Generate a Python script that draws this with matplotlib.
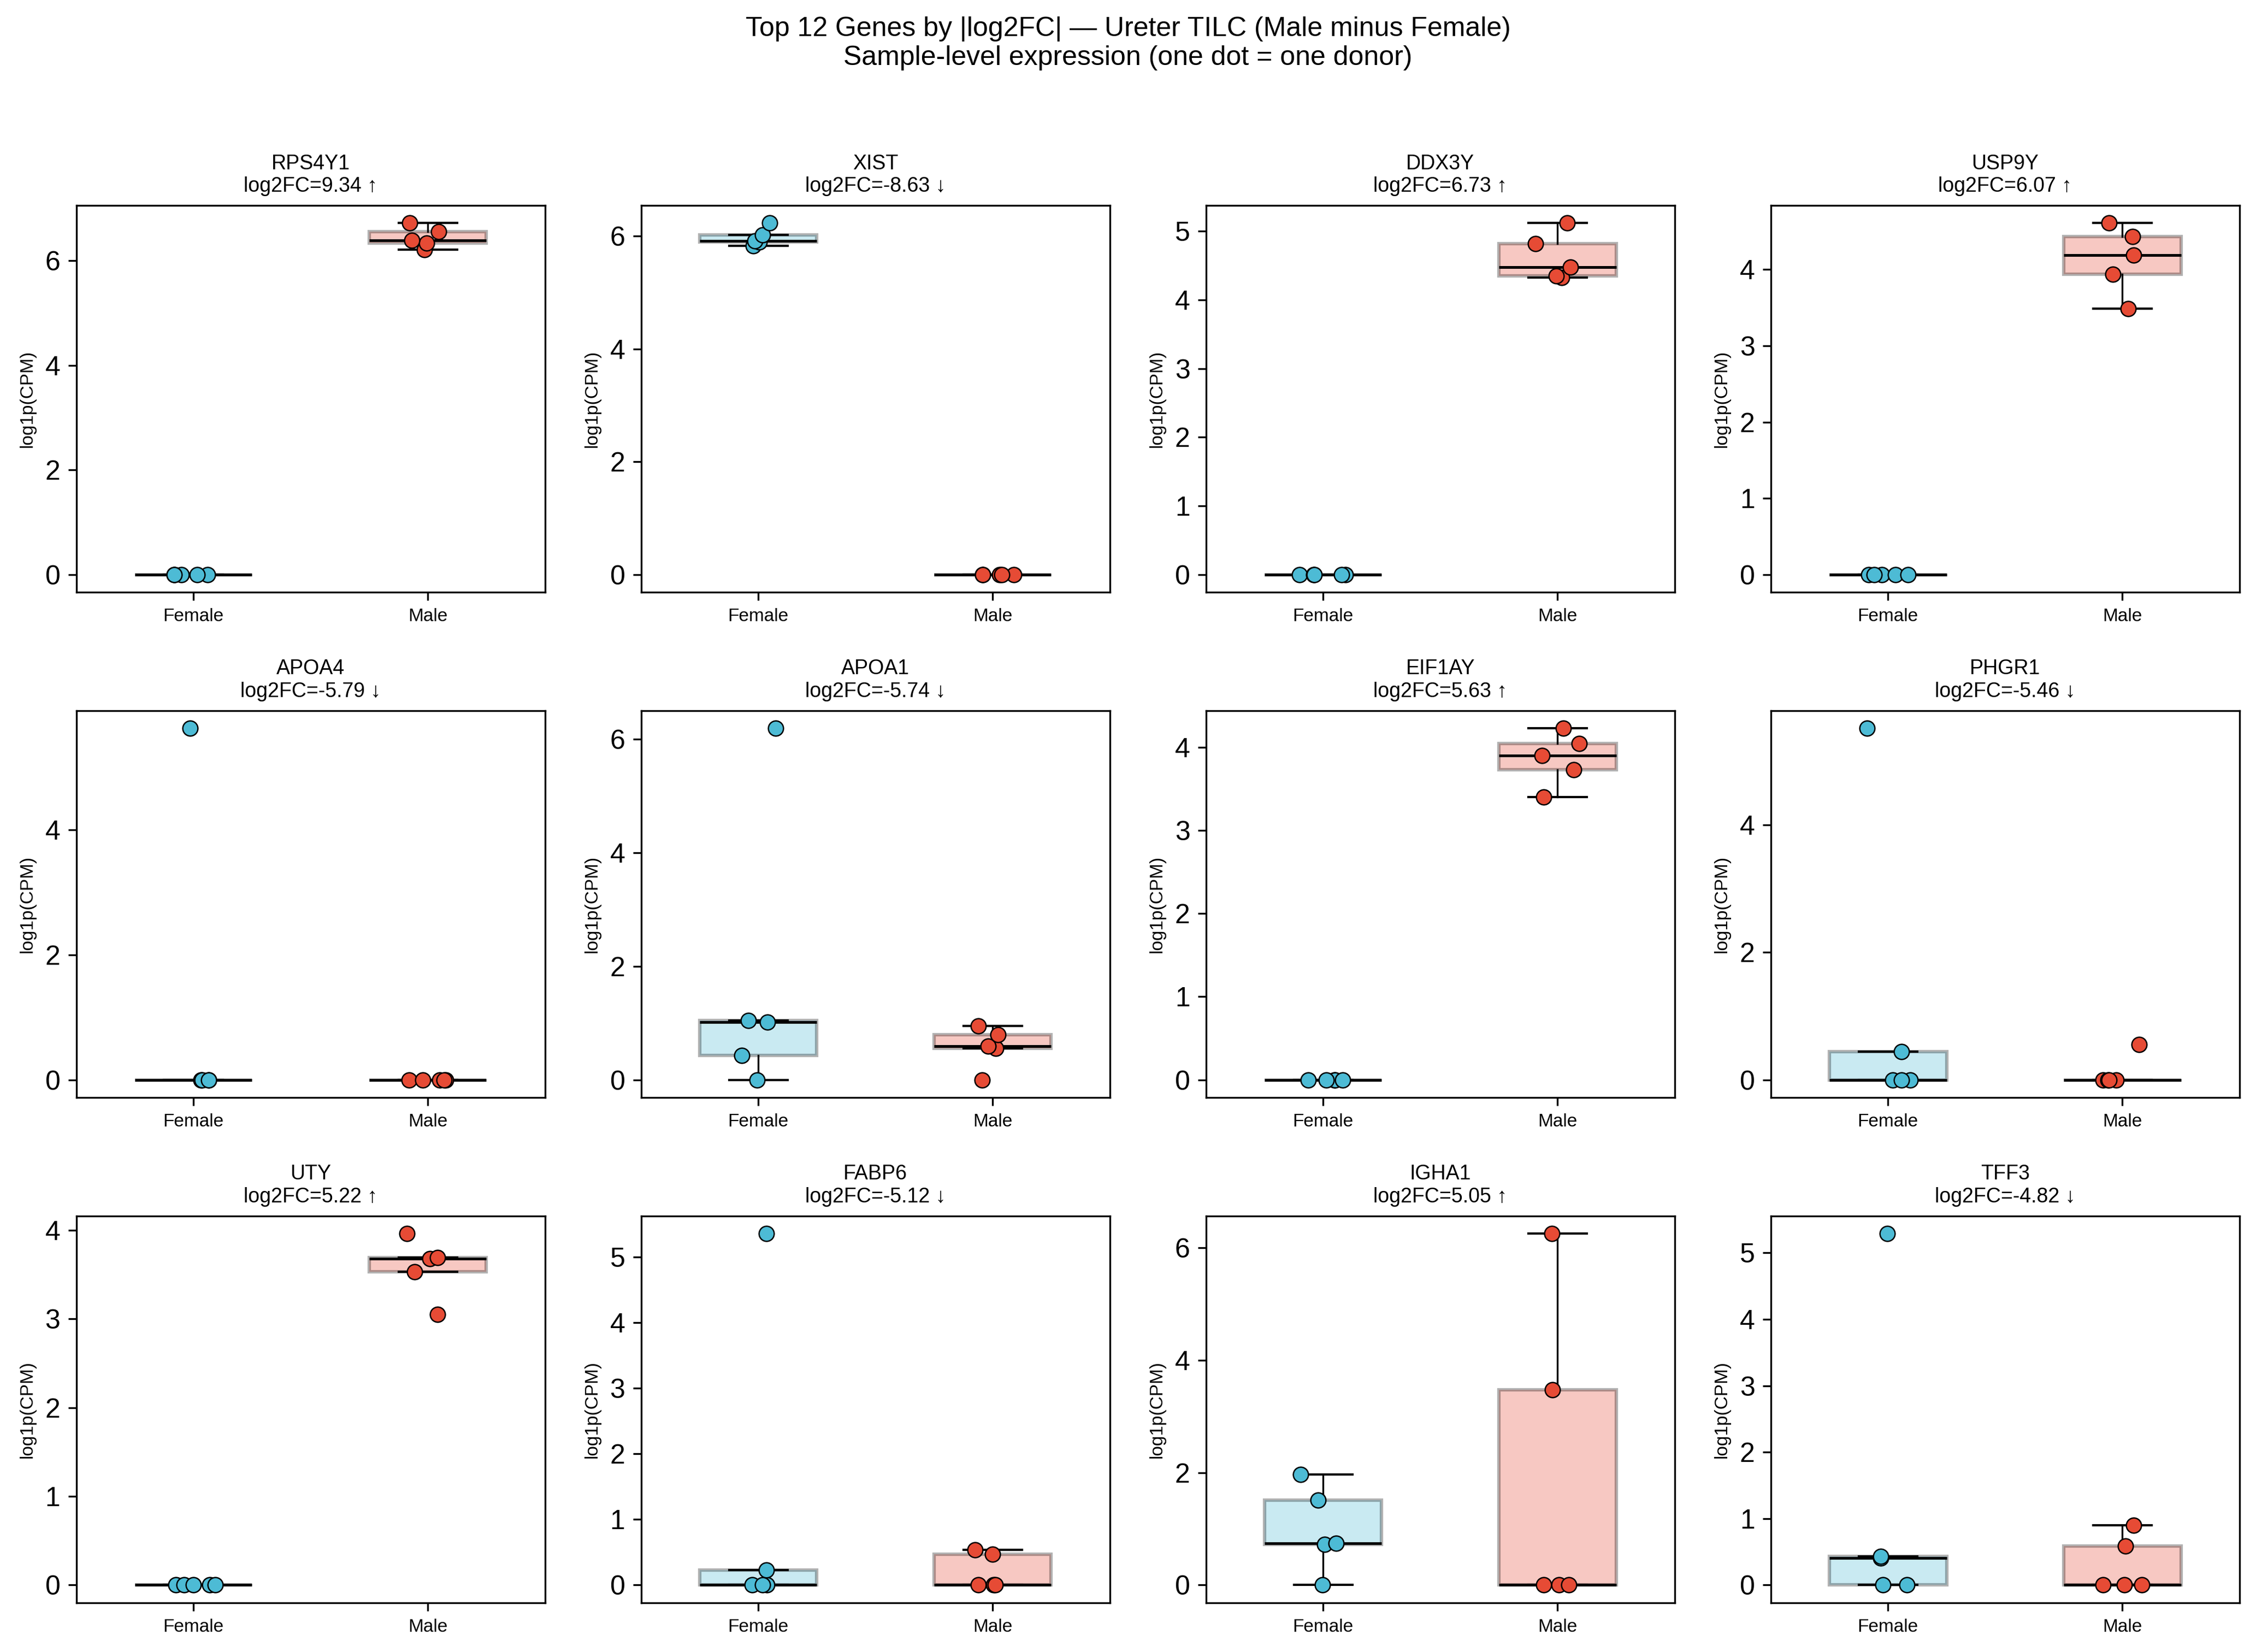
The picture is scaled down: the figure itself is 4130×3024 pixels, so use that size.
import numpy as np
import matplotlib
matplotlib.use("Agg")
import matplotlib.pyplot as plt
from matplotlib.ticker import MaxNLocator

plt.rcParams['font.family'] = ['Liberation Sans', 'DejaVu Sans']

genes = ["RPS4Y1", "XIST", "DDX3Y", "USP9Y",
         "APOA4", "APOA1", "EIF1AY", "PHGR1",
         "UTY", "FABP6", "IGHA1", "TFF3"]
log2fc = [9.34, -8.63, 6.73, 6.07, -5.79, -5.74, 5.63, -5.46, 5.22, -5.12, 5.05, -4.82]

# log1p(CPM) per donor, 5 female + 5 male
female = [
    [0, 0, 0, 0, 0],
    [5.83, 5.89, 5.91, 6.02, 6.23],
    [0, 0, 0, 0, 0],
    [0, 0, 0, 0, 0],
    [0, 0, 0, 0, 5.62],
    [0, 0.43, 1.02, 1.04, 6.19],
    [0, 0, 0, 0, 0],
    [0, 0, 0, 0.44, 5.51],
    [0, 0, 0, 0, 0],
    [0, 0, 0, 0.23, 5.36],
    [0, 0.72, 0.74, 1.51, 1.97],
    [0, 0, 0.41, 0.43, 5.29],
]
male = [
    [6.21, 6.34, 6.39, 6.56, 6.72],
    [0, 0, 0, 0, 0],
    [4.33, 4.35, 4.48, 4.82, 5.12],
    [3.49, 3.94, 4.19, 4.43, 4.61],
    [0, 0, 0, 0, 0],
    [0, 0.55, 0.59, 0.79, 0.95],
    [3.40, 3.73, 3.90, 4.05, 4.23],
    [0, 0, 0, 0, 0.55],
    [3.05, 3.53, 3.68, 3.69, 3.96],
    [0, 0, 0, 0.47, 0.54],
    [0, 0, 0, 3.47, 6.25],
    [0, 0, 0, 0.59, 0.90],
]

groups = ["Female", "Male"]
colors = ["#4DBBD5", "#E64B35"]

rng = np.random.default_rng(3)

fig, axes = plt.subplots(3, 4, figsize=(4130/300, 3024/300), dpi=300)
fig.subplots_adjust(left=0.0338, right=0.9927, top=0.8756, bottom=0.0299,
                    wspace=0.205, hspace=0.307)

for i, ax in enumerate(axes.flat):
    vals = [female[i], male[i]]
    bp = ax.boxplot(vals, positions=[1, 2], widths=0.5, patch_artist=True,
                    showfliers=False,
                    medianprops=dict(color="black", linewidth=1.2),
                    whiskerprops=dict(color="black", linewidth=0.8),
                    capprops=dict(color="black", linewidth=1.0))
    for patch, c in zip(bp["boxes"], colors):
        patch.set_facecolor(c)
        patch.set_edgecolor("black")
        patch.set_linewidth(1.5)
        patch.set_alpha(0.3)
    for j, (v, c) in enumerate(zip(vals, colors)):
        x = (j + 1) + rng.uniform(-0.1, 0.1, len(v))
        ax.scatter(x, v, s=44, color=c, edgecolor="black", linewidth=0.6, zorder=3)
    arrow = "↑" if log2fc[i] > 0 else "↓"
    ax.set_title(f"{genes[i]}\nlog2FC={log2fc[i]:.2f} {arrow}", fontsize=9)
    ax.set_xticks([1, 2])
    ax.set_xticklabels(groups, fontsize=8)
    ax.yaxis.set_major_locator(MaxNLocator(nbins=6, steps=[1, 2, 2.5, 5, 10]))
    ax.tick_params(axis="y", labelsize=12)
    ax.set_ylabel("log1p(CPM)", fontsize=8)

fig.suptitle("Top 12 Genes by |log2FC| — Ureter TILC (Male minus Female)\n"
             "Sample-level expression (one dot = one donor)", fontsize=12, y=0.99)

fig.savefig("out.png", dpi=300)
